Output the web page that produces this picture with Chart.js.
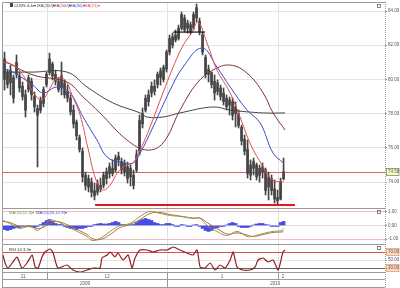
<!DOCTYPE html>
<html><head><meta charset="utf-8">
<script src="https://cdn.jsdelivr.net/npm/chart.js@4.4.1/dist/chart.umd.min.js"></script>
<style>
html,body{margin:0;padding:0;background:#fff;}
body{width:400px;height:288px;position:relative;overflow:hidden;font-family:"Liberation Sans",Arial,sans-serif;}
canvas{position:absolute;left:0;}
.lg{position:absolute;font-size:4.2px;line-height:5px;white-space:nowrap;}
.ic{position:absolute;width:3px;height:4px;background:#3b4a6b;}
</style></head><body>
<canvas id="cMain" width="400" height="209" style="top:0px"></canvas>
<canvas id="cMacd" width="400" height="36" style="top:208px"></canvas>
<canvas id="cRsi" width="400" height="44" style="top:244px"></canvas>
<div class="ic" style="left:10px;top:3px"></div>
<div class="lg" style="left:14px;top:3px;color:#333">CLWS 4-hr▾</div>
<div class="lg" style="left:37px;top:3px;color:#555">MA(200)▾</div>
<div class="lg" style="left:53px;top:3px;color:#a03c3c">MA(100)▾</div>
<div class="lg" style="left:69px;top:3px;color:#3a4ccc">MA(50)▾</div>
<div class="lg" style="left:84px;top:3px;color:#e05050">MA(21)▾</div>
<div class="lg" style="left:9px;top:210px;color:#6a9a3a">MACD(12,9)▾</div>
<div class="lg" style="left:36px;top:210px;color:#4a4acc">MACD(26,12,9)▾</div>
<div class="lg" style="left:9px;top:247px;color:#333">RSI 14 3.3▾</div>
<script>
// ---------- data ----------
const high = [81.60,80.55,80.84,80.26,81.43,80.43,79.85,79.38,80.26,80.08,
79.26,78.50,78.97,79.56,80.43,81.54,81.02,80.55,80.08,81.02,
79.97,79.67,79.09,78.50,77.63,76.75,75.99,74.58,74.41,74.23,
73.94,74.12,74.23,74.58,74.82,75.11,75.29,75.58,75.75,75.40,
75.29,75.17,74.99,74.70,75.87,77.92,78.33,79.09,79.38,79.85,
79.97,80.43,80.67,80.84,81.72,82.60,82.71,82.89,83.18,83.94,
83.77,83.47,83.36,83.94,84.41,83.59,82.77,81.43,80.84,80.43,
80.26,79.97,79.67,79.50,79.09,78.97,78.91,78.68,78.21,77.33,
76.75,76.46,75.29,75.40,75.11,74.99,75.11,74.82,74.58,74.41,
74.12,73.53,74.23,75.40];
const low = [79.38,79.50,79.09,78.62,80.08,79.26,78.79,77.80,79.26,78.79,
78.09,74.88,78.04,78.39,79.56,80.26,79.97,79.67,79.26,79.09,
78.91,78.68,77.92,77.16,76.46,75.75,74.00,73.53,73.42,73.12,
72.95,73.24,73.42,73.65,73.88,74.23,74.35,74.58,74.94,74.47,
74.35,73.94,73.77,73.59,74.58,75.58,77.16,78.09,78.44,78.97,
79.09,79.50,79.67,79.85,80.43,81.43,81.84,82.19,82.30,82.89,
82.77,82.71,82.65,82.89,83.36,82.60,81.43,80.08,79.85,79.50,
78.79,79.09,78.79,78.50,78.21,77.92,77.63,77.22,77.16,76.16,
75.58,74.23,74.12,74.41,74.12,74.00,74.23,73.24,72.95,73.24,
72.77,72.65,72.95,74.12];
const open = [80.0,80.4,79.8,80.1,80.3,80.2,79.6,79.1,79.4,79.9,
79.0,78.3,78.2,78.6,79.7,80.4,80.9,80.3,79.9,79.5,
79.8,79.3,78.9,78.2,77.5,76.6,75.8,74.4,73.7,74.0,
73.5,73.4,73.8,73.8,74.2,74.5,74.8,74.7,75.3,75.2,
74.6,74.9,74.3,74.4,74.7,75.8,77.4,78.2,78.7,79.2,
79.6,79.7,80.1,80.0,80.6,81.6,82.0,82.6,82.4,83.0,
83.6,83.0,83.2,83.0,83.6,83.4,82.6,81.3,80.3,80.4,
79.9,79.3,79.5,79.2,78.9,78.5,78.7,78.0,78.0,77.2,
76.5,75.9,74.4,74.8,75.0,74.4,74.6,74.7,73.7,74.2,
73.6,73.1,73.0,74.2];
const close = [81.2,79.7,80.5,78.9,81.0,79.5,79.0,78.2,80.1,79.1,
78.4,77.9,78.8,79.4,80.3,81.2,80.2,79.9,79.4,80.2,
79.1,78.9,78.1,77.4,76.7,75.9,74.3,73.8,74.2,73.4,
73.2,73.9,73.6,74.4,74.6,74.9,74.5,75.4,75.5,74.7,
75.1,74.2,74.8,73.8,75.6,77.6,78.0,78.9,79.1,79.6,
79.3,80.3,80.5,80.7,81.6,82.4,82.5,82.3,83.0,83.8,
82.9,83.3,82.8,83.8,84.2,82.8,81.6,80.3,80.6,79.7,
79.2,79.8,79.0,78.7,78.4,78.8,77.9,78.4,77.3,76.4,
75.8,74.5,75.0,75.2,74.3,74.8,74.9,73.5,74.3,73.5,
73.0,72.9,74.0,74.6];

const maRedX = [-0.5,3.5,6.8,10.2,12.5,15.2,17.5,20.2,22.5,25.2,27.8,30.5,32.8,35.2,37.8,40.5,42.8,45.2,48.5,52.8,55.8,59.2,62.5,64.5,67.5,70.8,75.2,78.5,81.8,86.2,89.2,93];
const maRedY = [81.02,80.78,80.08,79.09,78.79,79.50,80.08,79.97,79.09,77.92,75.99,74.12,73.53,73.82,74.58,74.99,75.11,75.87,77.22,79.21,80.55,81.89,82.77,83.36,82.13,80.55,79.21,77.80,76.28,74.88,74.12,74.00];
const maBlueX = [-0.5,2.8,9.5,12.8,17.5,21.8,26.2,30.8,34.2,38.5,42.8,45.2,49.5,55.2,59.5,65.8,70.8,75.2,80.8,85.2,89.5,93];
const maBlueY = [80.67,80.43,79.67,79.21,79.56,79.21,77.80,76.46,75.46,75.17,75.11,75.69,77.22,79.38,80.72,81.84,80.72,79.56,78.21,77.45,75.69,75.11];
const maMaroonX = [-0.5,9.5,20.8,26.2,31.8,40.8,47.5,52.8,58.5,64.2,69.5,75.2,80.8,86.2,89.5,93.5];
const maMaroonY = [81.13,80.26,79.85,78.97,78.04,76.46,75.87,76.28,78.21,79.79,80.55,80.84,80.37,79.21,78.04,77.04];
const maGrayX = [-0.5,9.5,20.8,27.5,36.2,45.2,47.5,52.8,58.5,69.5,75.2,86.2,93.5];
const maGrayY = [80.43,80.43,80.43,79.56,78.62,78.04,77.80,77.80,78.04,78.39,78.21,78.04,78.04];

const supportLevel = 72.65, supportFrom = 30.2, supportTo = 96.8;
const resistLevel = 82.77, resistFrom = 56.2, resistTo = 66.8;
const lastPrice = 74.58;
const priceTicks = [74, 76, 78, 80, 82, 84];

const macdHist = [-0.30,-0.37,-0.30,-0.22,-0.15,-0.15,-0.07,-0.11,-0.07,-0.11,
-0.15,-0.07,0.07,0.22,0.37,0.44,0.30,0.15,0.07,0.07,
-0.07,-0.15,-0.22,-0.22,-0.30,-0.22,-0.22,-0.15,-0.07,-0.07,
0.07,0.11,0.15,0.11,0.11,0.15,0.22,0.30,0.22,0.07,
0.04,0.04,0.07,0.07,0.22,0.37,0.44,0.52,0.44,0.37,
0.22,0.15,0.07,0.07,0.15,0.15,0.07,-0.07,-0.07,0.07,
0.04,-0.07,-0.07,0.04,0.07,-0.07,-0.22,-0.37,-0.44,-0.37,
-0.22,-0.15,-0.07,-0.07,0.04,0.15,0.22,0.15,-0.07,-0.15,
-0.15,-0.15,-0.07,0.04,0.11,0.15,0.15,0.07,0.04,-0.07,
-0.07,-0.07,0.22,0.30];
const macdX = [-0.5,1.8,5.2,8.5,10.8,12.8,15.2,17.5,20.8,24.2,27.5,29.2,31.8,35.2,38.5,41.8,45.2,48.5,51.8,55.2,58.5,62.8,65.2,67.5,70.8,74.2,77.5,80.8,82.8,86.2,89.5,92.5,93];
const macdLine = [0.37,0.15,-0.22,0.0,-0.37,-0.07,0.37,0.30,-0.07,-0.44,-0.81,-1.11,-0.96,-0.44,0.0,0.15,0.67,1.04,0.89,0.74,0.67,0.52,0.52,0.0,-0.44,-0.74,-0.44,-0.81,-0.81,-0.59,-0.44,-0.37,-0.22];
const signalLine = [0.30,0.22,-0.07,-0.07,-0.22,-0.15,0.15,0.30,0.07,-0.30,-0.67,-0.96,-1.04,-0.67,-0.15,0.07,0.44,0.89,0.96,0.81,0.70,0.55,0.55,0.22,-0.22,-0.63,-0.55,-0.70,-0.81,-0.67,-0.52,-0.48,-0.44];
const macdTicks = [-1, 0, 1];

const rsiX = [-0.5,0.2,1.2,2.8,4.2,5.8,7.5,9.2,10.2,11.2,12.5,13.5,15.2,16.2,17.8,20.8,22.8,25.2,27.5,29.5,31.8,32.5,34.2,35.2,36.8,37.8,39.5,41.2,42.5,43.5,45.2,47.5,49.5,51.8,54.2,56.2,58.5,60.8,62.8,64.2,65.2,66.8,68.5,70.2,71.8,73.5,75.2,76.2,77.5,79.5,81.8,83.5,84.5,86.2,87.8,89.5,91.2,92.8,93.5];
const rsiY = [62.5,42.5,30,45,57.5,30,42.5,62.5,32.5,30,57.5,70,77.5,67.5,30,37.5,25,20,25,30,30,55,62.5,70,57.5,67.5,50,62.5,30,55,75,75,70,75,75,82.5,75,67.5,62.5,75,32.5,30,42.5,25,37.5,30,50,70,32.5,25,25,32.5,50,55,45,50,25,70,75];
const rsiTicks = [30, 50, 70];

const monthBounds = [14.2, 54.2, 91.2];
const monthLabels = ['11', '12', '1', '2'];
const monthLabelPos = [6.2, 34.2, 72.5, 92.8];
const yearBounds = [54.2];
const yearLabels = ['2009', '2010'];
const yearLabelPos = [26.8, 90.2];

// ---------- helpers ----------
Chart.defaults.font.family = '"Liberation Sans", Arial, sans-serif';
Chart.defaults.font.size = 4.5;
Chart.defaults.color = '#555';
Chart.defaults.animation = false;
const X_MIN = -0.5, X_MAX = 126.8;
const pts = (xs, ys) => xs.map((x, i) => ({x, y: ys[i]}));

function yAxis(min, max, tickVals, gridColor) {
  return {
    type: 'linear', position: 'right', min, max, offset: false, beginAtZero: false,
    afterBuildTicks: s => { s.ticks = tickVals.map(v => ({value: v})); },
    afterFit: s => { s.width = 15; s.paddingTop = 0; s.paddingBottom = 0; },
    ticks: {autoSkip: false, padding: 1, color: '#555', font: {size: 4.5}, callback: v => Number(v).toFixed(2)},
    grid: {color: gridColor, drawTicks: true, tickLength: 2, tickColor: '#999', lineWidth: 1, offset: false},
    border: {display: false}
  };
}
function xGrid() {
  return {
    type: 'linear', position: 'bottom', weight: 0, min: X_MIN, max: X_MAX, bounds: 'data', offset: false,
    afterBuildTicks: s => { s.ticks = monthBounds.map(v => ({value: v})); },
    afterFit: s => { s.height = 0; s.paddingLeft = 0; s.paddingRight = 0; },
    ticks: {display: false}, grid: {color: '#e2e2e2', drawTicks: false, offset: false}, border: {display: false}
  };
}
function labelAxis(weight, pos, labels, h) {
  return {
    type: 'linear', position: 'bottom', weight, min: X_MIN, max: X_MAX, bounds: 'data', offset: false,
    afterBuildTicks: s => { s.ticks = pos.map(v => ({value: v})); },
    afterFit: s => { s.height = h; s.paddingLeft = 0; s.paddingRight = 0; },
    ticks: {autoSkip: false, maxRotation: 0, padding: 1, color: '#555', font: {size: 4.5}, callback: (v, i) => labels[i]},
    grid: {display: false, drawTicks: false}, border: {display: false}
  };
}
function frame(chart, extraBottom) {
  const {ctx, chartArea: a} = chart;
  ctx.save(); ctx.strokeStyle = '#9a9a9a'; ctx.lineWidth = 1;
  ctx.beginPath();
  ctx.moveTo(a.left - 0.5, a.bottom); ctx.lineTo(a.left - 0.5, a.top - 0.5); ctx.lineTo(a.right, a.top - 0.5);
  ctx.stroke();
  ctx.setLineDash([1, 1]);
  ctx.beginPath(); ctx.moveTo(a.right + 0.5, a.top - 1); ctx.lineTo(a.right + 0.5, a.bottom + (extraBottom || 0)); ctx.stroke();
  ctx.setLineDash([]);
  ctx.strokeStyle = '#666'; ctx.lineWidth = 0.8;
  ctx.strokeRect(377.5, a.top + 1.5, 3, 3);
  ctx.restore();
}
function labelBox(chart, v, fill, stroke) {
  const {ctx, scales: {y}} = chart;
  const py = y.getPixelForValue(v);
  ctx.save();
  ctx.fillStyle = fill; ctx.fillRect(386, py - 3.5, 13, 7);
  ctx.strokeStyle = stroke; ctx.lineWidth = 0.8; ctx.strokeRect(386.5, py - 3.5, 12.5, 7);
  ctx.restore();
}
const common = {
  responsive: false, animation: false, events: [],
  plugins: {legend: {display: false}, tooltip: {enabled: false}}
};

// ---------- main price chart ----------
new Chart(document.getElementById('cMain'), {
  type: 'line',
  data: {datasets: [
    {type: 'line', data: [{x: resistFrom, y: resistLevel}, {x: resistTo, y: resistLevel}], borderColor: '#111', borderWidth: 1.2, pointRadius: 0, order: 0},
    {type: 'line', data: [{x: supportFrom, y: supportLevel}, {x: supportTo, y: supportLevel}], borderColor: '#e01818', borderWidth: 2, pointRadius: 0, order: 0},
    {type: 'line', data: pts(maRedX, maRedY), borderColor: '#e05050', borderWidth: 1, pointRadius: 0, tension: 0.4, order: 1},
    {type: 'line', data: pts(maBlueX, maBlueY), borderColor: '#3a4ccc', borderWidth: 1, pointRadius: 0, tension: 0.4, order: 2},
    {type: 'line', data: pts(maMaroonX, maMaroonY), borderColor: '#7a3434', borderWidth: 1, pointRadius: 0, tension: 0.4, order: 3},
    {type: 'line', data: pts(maGrayX, maGrayY), borderColor: '#444', borderWidth: 1, pointRadius: 0, tension: 0.4, order: 4},
    {type: 'bar', data: high.map((h, i) => ({x: i, y: [low[i], h]})), backgroundColor: '#444', barThickness: 1, grouped: false, order: 10},
    {type: 'bar', data: open.map((o, i) => ({x: i, y: [o, close[i]]})), backgroundColor: '#444', barThickness: 2, grouped: false, order: 9}
  ]},
  options: Object.assign({}, common, {
    layout: {padding: {left: 3, top: 3, right: 0, bottom: 1}},
    scales: {
      x: xGrid(),
      y: yAxis(72.48, 84.47, priceTicks.concat([lastPrice]), c => c.tick && c.tick.value === lastPrice ? '#e06060' : '#e4e4e4')
    }
  }),
  plugins: [{id: 'mainDeco', beforeDraw: ch => labelBox(ch, lastPrice, '#ffffcc', '#7a8a5a'), afterDraw: ch => frame(ch)}]
});

// ---------- MACD ----------
new Chart(document.getElementById('cMacd'), {
  type: 'line',
  data: {datasets: [
    {type: 'line', data: pts(macdX, macdLine), borderColor: '#8f9a48', borderWidth: 1, pointRadius: 0, tension: 0.4, order: 1},
    {type: 'line', data: pts(macdX, signalLine), borderColor: '#b0703a', borderWidth: 1, pointRadius: 0, tension: 0.4, order: 2},
    {type: 'bar', data: macdHist.map((v, i) => ({x: i, y: v})), backgroundColor: '#4a4ae6', barThickness: 3, grouped: false, order: 5}
  ]},
  options: Object.assign({}, common, {
    layout: {padding: {left: 3, top: 1, right: 0, bottom: 0}},
    scales: {
      x: xGrid(),
      y: yAxis(-1.37, 1.22, macdTicks, c => c.tick && c.tick.value === 0 ? '#dcdcdc' : '#f0c0c0')
    }
  }),
  plugins: [{id: 'macdDeco', afterDraw: ch => frame(ch)}]
});

// ---------- RSI + time axis ----------
new Chart(document.getElementById('cRsi'), {
  type: 'line',
  data: {datasets: [
    {data: pts(rsiX, rsiY), borderColor: '#8b2020', borderWidth: 1.2, pointRadius: 0, tension: 0.2}
  ]},
  options: Object.assign({}, common, {
    layout: {padding: {left: 3, top: 1, right: 0, bottom: 0}},
    scales: {
      x: xGrid(),
      xm: labelAxis(1, monthLabelPos, monthLabels, 7),
      xy: labelAxis(2, yearLabelPos, yearLabels, 8),
      y: yAxis(17.5, 87.5, rsiTicks, c => !c.tick ? '#e4e4e4' : (c.tick.value === 70 ? '#e05050' : (c.tick.value === 30 ? '#666' : '#e4e4e4')))
    }
  }),
  plugins: [{
    id: 'rsiDeco',
    beforeDraw: ch => { labelBox(ch, 70, '#fdd9c3', '#f0a070'); labelBox(ch, 30, '#fdd9c3', '#f0a070'); },
    afterDraw: ch => {
      frame(ch, 15);
      const {ctx, chartArea: a, scales: {x}} = ch;
      const b = a.bottom;
      ctx.save(); ctx.strokeStyle = '#9a9a9a'; ctx.lineWidth = 1;
      ctx.beginPath();
      [b - 0.5, b + 6.5, b + 14.5].forEach(yy => { ctx.moveTo(a.left - 1, yy); ctx.lineTo(a.right, yy); });
      ctx.moveTo(a.left - 0.5, b); ctx.lineTo(a.left - 0.5, b + 15);
      monthBounds.forEach(v => { const px = Math.round(x.getPixelForValue(v)) + 0.5; ctx.moveTo(px, b); ctx.lineTo(px, b + 7); });
      yearBounds.forEach(v => { const px = Math.round(x.getPixelForValue(v)) + 0.5; ctx.moveTo(px, b + 7); ctx.lineTo(px, b + 15); });
      ctx.stroke();
      ctx.restore();
    }
  }]
});
</script>
</body></html>
